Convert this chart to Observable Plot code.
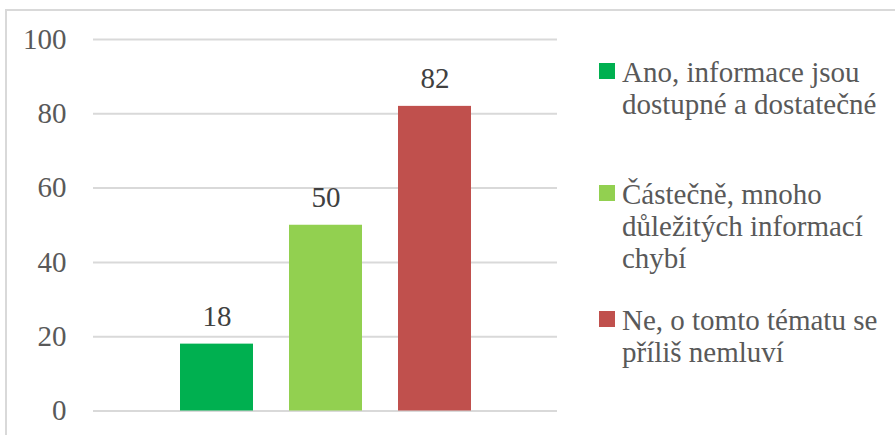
<!DOCTYPE html>
<html>
<head>
<meta charset="utf-8">
<script src="https://cdn.jsdelivr.net/npm/d3@7"></script>
<script src="https://cdn.jsdelivr.net/npm/@observablehq/plot@0.6"></script>
<style>
  html, body { margin: 0; padding: 0; background: #fff; }
  body { width: 895px; height: 435px; overflow: hidden; position: relative; }
  #frame { position: absolute; left: 5px; top: 9px; width: 1000px; height: 1000px; border: 2px solid #d9d9d9; box-sizing: border-box; }
  #chart { position: absolute; left: 0; top: 0; }
  .leg { position: absolute; left: 599px; font-family: "Liberation Serif", "Times New Roman", Tinos, "DejaVu Serif", serif; font-size: 29px; line-height: 32px; color: #595959; white-space: nowrap; }
  .leg .sw { position: absolute; left: 0; top: 7px; width: 16px; height: 16px; }
  .leg .tx { position: absolute; left: 23px; top: 0; }
</style>
</head>
<body>
<div id="frame"></div>
<div id="chart"></div>
<div id="legend"></div>
<script>
const categories = ["Ano, informace jsou dostupné a dostatečné", "Částečně, mnoho důležitých informací chybí", "Ne, o tomto tématu se příliš nemluví"];
const values = [18, 50, 82];
const colors = ["#00B050", "#92D050", "#C0504D"];
const legendLines = [["Ano, informace jsou", "dostupné a dostatečné"], ["Částečně, mnoho", "důležitých informací", "chybí"], ["Ne, o tomto tématu se", "příliš nemluví"]];
const yTicks = [0, 20, 40, 60, 80, 100];

const data = categories.map((c, i) => ({category: c, value: values[i]}));
const font = '"Liberation Serif", "Times New Roman", Tinos, "DejaVu Serif", serif';

const plot = Plot.plot({
  width: 580,
  height: 435,
  marginTop: 39,
  marginBottom: 24.5,
  marginLeft: 93,
  marginRight: 23,
  style: {fontFamily: font, fontSize: "29px", background: "transparent", overflow: "visible"},
  x: {domain: categories, paddingInner: 0.333, paddingOuter: 0.776, axis: null},
  y: {domain: [0, 100], ticks: yTicks},
  color: {domain: categories, range: colors},
  marks: [
    Plot.ruleY(yTicks, {stroke: "#d9d9d9", strokeWidth: 2}),
    Plot.axisY({ticks: yTicks, tickSize: 0, tickPadding: 27, fill: "#595959", fontSize: 29, fontFamily: font, label: null}),
    Plot.barY(data, {x: "category", y: "value", fill: "category"}),
    Plot.text(data, {x: "category", y: "value", text: d => String(d.value), lineAnchor: "bottom", dy: -18, fill: "#404040", fontSize: 29, fontFamily: font})
  ]
});
document.getElementById("chart").appendChild(plot);

const tops = [56, 177.5, 303.5];
const legend = document.getElementById("legend");
categories.forEach((c, i) => {
  const item = document.createElement("div");
  item.className = "leg";
  item.style.top = tops[i] + "px";
  const sw = document.createElement("div");
  sw.className = "sw";
  sw.style.background = colors[i];
  const tx = document.createElement("div");
  tx.className = "tx";
  tx.innerHTML = legendLines[i].join("<br>");
  item.appendChild(sw);
  item.appendChild(tx);
  legend.appendChild(item);
});
</script>
</body>
</html>
